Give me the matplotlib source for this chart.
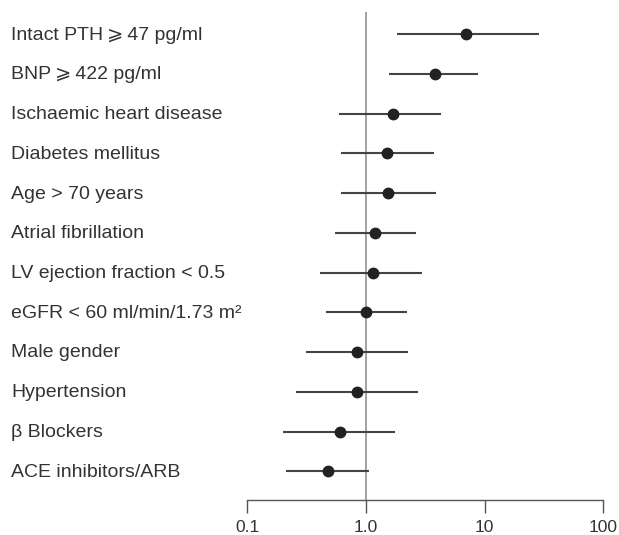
import matplotlib
matplotlib.use("Agg")
import matplotlib.pyplot as plt
import matplotlib.transforms as mtransforms

plt.rcParams['font.family'] = ['Liberation Sans', 'DejaVu Sans']

labels = ["Intact PTH\u2009\u2a7e\u200947 pg/ml", "BNP\u2009\u2a7e\u2009422 pg/ml", "Ischaemic heart disease",
          "Diabetes mellitus", "Age > 70 years", "Atrial fibrillation",
          "LV ejection fraction < 0.5", "eGFR < 60 ml/min/1.73 m\u00b2", "Male gender",
          "Hypertension", "\u03b2 Blockers", "ACE inhibitors/ARB"]
hr = [6.9, 3.84, 1.69, 1.51, 1.52, 1.20, 1.14, 1.01, 0.84, 0.84, 0.60, 0.48]
lo = [1.82, 1.56, 0.59, 0.62, 0.62, 0.55, 0.41, 0.46, 0.31, 0.255, 0.20, 0.21]
hi = [28.8, 8.83, 4.31, 3.74, 3.86, 2.65, 2.98, 2.20, 2.27, 2.74, 1.77, 1.07]
ticks = [0.1, 1.0, 10, 100]
tick_labels = ["0.1", "1.0", "10", "100"]

fig = plt.figure(figsize=(6.19, 5.35), dpi=100)
ax = fig.add_axes([247.3 / 619, 35 / 535, 356 / 619, 488 / 535])
ax.set_xscale('log')
ax.set_xlim(0.1, 100)
rows = list(range(1, len(labels) + 1))
ax.set_ylim(12.72, 0.44)

ax.axvline(1.0, color='#8a8a8a', lw=1.1, zorder=1)
ax.hlines(rows, lo, hi, color='#444444', lw=1.5, zorder=2)
ax.plot(hr, rows, 'o', color='#222222', ms=7.5, zorder=3)

for s in ['top', 'right', 'left']:
    ax.spines[s].set_visible(False)
ax.spines['bottom'].set_color('#555555')
ax.spines['bottom'].set_linewidth(1.0)
ax.set_yticks([])
ax.set_xticks(ticks)
ax.set_xticklabels(tick_labels)
ax.minorticks_off()
ax.tick_params(axis='x', direction='out', length=9.5, width=1.0, color='#555555',
               pad=5, labelsize=12.5, labelcolor='#333333')

trans = mtransforms.blended_transform_factory(fig.transFigure, ax.transData)
for r, lab in zip(rows, labels):
    fig.text(11 / 619, r + 0.02, lab, transform=trans, ha='left', va='center',
             fontsize=14, color='#333333')

fig.savefig('out.png', dpi=100)
